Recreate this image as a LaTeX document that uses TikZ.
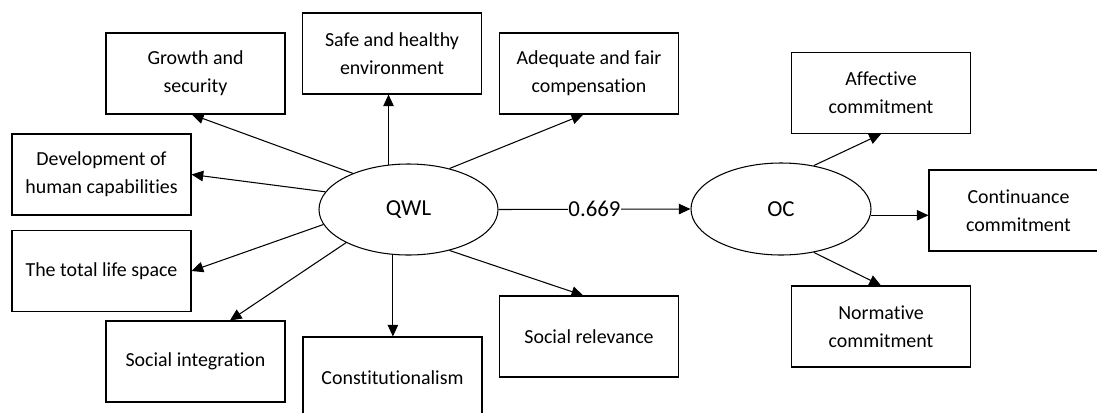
\documentclass[tikz,border=0pt]{standalone}
\usepackage{fontspec}
\setmainfont[Ligatures=NoCommon]{Carlito}
\usepackage{tikz}
\usetikzlibrary{calc,arrows.meta,shapes.geometric}

\tikzset{
    box/.style={draw, line width=0.9pt, minimum width=5.37cm, minimum height=2.43cm,
        align=center, inner sep=0pt, font=\fontsize{17}{24}\selectfont},
    latent/.style={draw, ellipse, line width=0.9pt, inner sep=0pt,
        font=\fontsize{19.5}{24}\selectfont},
    arr/.style={line width=0.9pt, -{Triangle[length=10pt,width=9pt]}}
}

\begin{document}
\begin{tikzpicture}[x=0.03cm,y=-0.03cm]
            \useasboundingbox (0,0) rectangle (1097,412);
            \clip (0,0) rectangle (1097,412);
            % QWL and its dimensions
            \node[latent, minimum width=5.37cm, minimum height=2.73cm] (qwl) at (408.5,209.5) {QWL};
            \node[box] (growth) at (195.5,73.5) {Growth and\\security};
            \node[box] (safe) at (392,53.5) {Safe and healthy\\environment};
            \node[box] (adeq) at (589,73.5) {Adequate and fair\\compensation};
            \node[box] (devel) at (101.5,174.5) {Development of\\human capabilities};
            \node[box] (life) at (101.5,271) {The total life space};
            \node[box] (integ) at (195.5,361.5) {Social integration};
            \node[box] (const) at (392.5,377.5) {Constitutionalism};
            \node[box] (relev) at (589,336.5) {Social relevance};
            % OC and its dimensions
            \node[latent, minimum width=5.4cm, minimum height=2.76cm] (oc) at (781,209) {OC};
            \node[box] (affect) at (881,93) {Affective\\commitment};
            \node[box] (cont) at (1018.5,210.5) {Continuance\\commitment};
            \node[box] (norm) at (881,326.5) {Normative\\commitment};

            \draw[arr] (qwl.147.6) -- (growth.-95);
            \draw[arr] (qwl.168.8) -- (devel.east);
            \draw[arr] (qwl.114) -- (qwl.114 |- safe.south);
            \draw[arr] (qwl.45) -- (adeq.-98);
            \draw[arr] (qwl.190) -- (life.east);
            \draw[arr] (qwl.208.6) -- (integ.50);
            \draw[arr] (qwl.251) -- (qwl.251 |- const.north);
            \draw[arr] (qwl.-45) -- (relev.98);
            \draw[arr] (qwl.east) -- node[fill=white, inner sep=0.5pt, font=\fontsize{19.5}{24}\selectfont] (coef) {0.669} (oc.west);
            \draw[arr] (oc.53) -- (affect.south);
            \draw[arr] (oc.-4) -- (oc.-4 -| cont.west);
            \draw[arr] (oc.-53) -- (norm.north);
        \end{tikzpicture}
\end{document}
